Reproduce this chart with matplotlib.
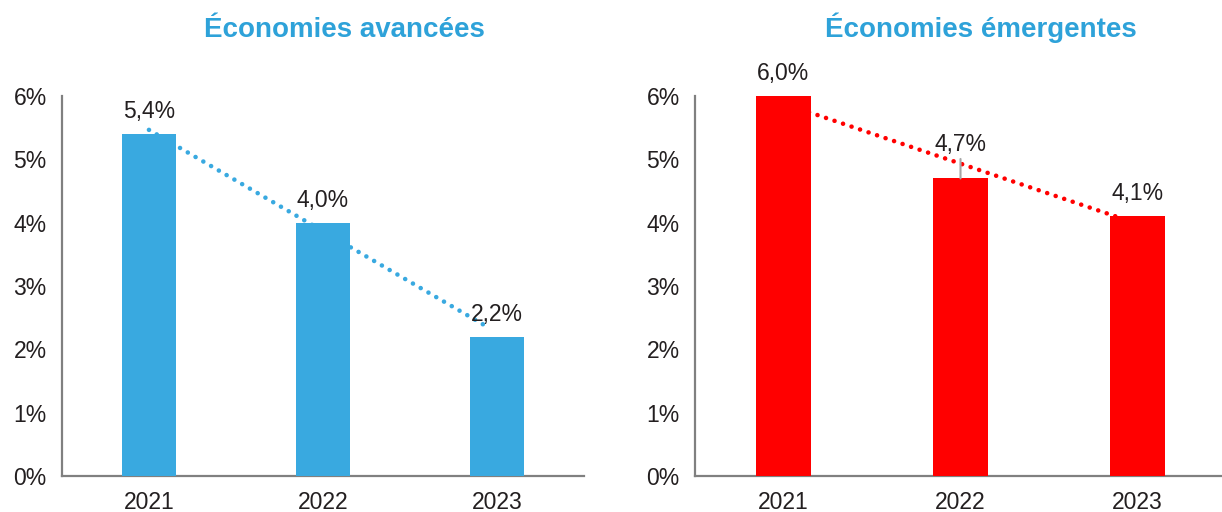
import numpy as np
import matplotlib
matplotlib.use("Agg")
import matplotlib.pyplot as plt

plt.rcParams['font.family'] = ['Liberation Sans', 'DejaVu Sans']

years = ["2021", "2022", "2023"]
avancees = [5.4, 4.0, 2.2]
emergentes = [6.0, 4.7, 4.1]
titles = ["Économies avancées", "Économies émergentes"]
yticks = [0, 1, 2, 3, 4, 5, 6]

blue = "#39a9e0"
red = "#ff0000"
title_color = "#2ea2d9"
text_color = "#231f20"
axis_color = "#808080"

fig = plt.figure(figsize=(12.22, 5.12), dpi=100)
ax1 = fig.add_axes([0.0507, 0.0703, 0.4272, 0.742])
ax2 = fig.add_axes([0.5687, 0.0703, 0.4313, 0.742])


def fmt(v):
    return f"{v:.1f}".replace(".", ",") + "%"


def draw_panel(ax, values, color, xmax, raised=None):
    x = np.arange(len(values))
    ax.bar(x, values, width=0.315, color=color, zorder=3, clip_on=False)

    # linear trend through the three years, dotted
    slope, intercept = np.polyfit(x, values, 1)
    xt = np.array([0, 1.95])
    ax.plot(xt, slope * xt + intercept, color=color, lw=3.3,
            linestyle=(0, (0.01, 1.95)), dash_capstyle="round", zorder=2)

    for i, v in enumerate(values):
        off = 11.5
        if raised is not None and i == raised:
            off = 19.5
            ax.annotate("", xy=(i, v), xytext=(0, 14), textcoords="offset points",
                        arrowprops=dict(arrowstyle="-", color="#a6a6a6", lw=1.5,
                                        shrinkA=0, shrinkB=0))
        ax.annotate(fmt(v), xy=(i, v), xytext=(0, off), textcoords="offset points",
                    ha="center", va="baseline", fontsize=16.5, color=text_color,
                    annotation_clip=False)

    ax.set_xlim(-0.5, xmax)
    ax.set_ylim(0, 6)
    ax.set_xticks(x)
    ax.set_xticklabels(years)
    ax.set_yticks(yticks)
    ax.set_yticklabels([f"{t}%" for t in yticks])
    ax.tick_params(length=0, labelsize=16.5, labelcolor=text_color)
    ax.tick_params(axis="y", pad=11)
    ax.tick_params(axis="x", pad=11)
    for s in ["top", "right"]:
        ax.spines[s].set_visible(False)
    for s in ["left", "bottom"]:
        ax.spines[s].set_color(axis_color)
        ax.spines[s].set_linewidth(1.6)


draw_panel(ax1, avancees, blue, 2.5)
draw_panel(ax2, emergentes, red, 2.477, raised=1)

fig.text(0.2815, 0.928, titles[0], ha="center", va="baseline", fontsize=20,
         fontweight="bold", color=title_color)
fig.text(0.803, 0.928, titles[1], ha="center", va="baseline", fontsize=20,
         fontweight="bold", color=title_color)

fig.savefig("out.png", dpi=100)
